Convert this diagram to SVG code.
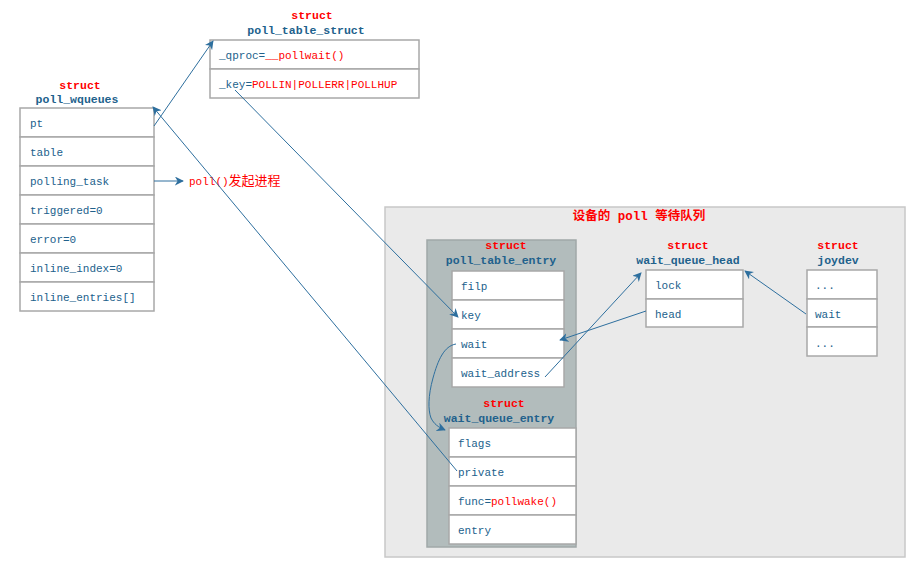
<svg xmlns="http://www.w3.org/2000/svg" width="912" height="562" viewBox="0 0 912 562">
<style>
.box{fill:#ffffff;stroke:#a8a8a8;stroke-width:1.5}
.f{font-family:"Liberation Mono","DejaVu Sans Mono",monospace;font-size:11px;fill:#21618c}
.r{fill:#ff0000}
.t{font-family:"Liberation Mono","DejaVu Sans Mono",monospace;font-size:11.5px;font-weight:bold;fill:#21618c;text-anchor:middle}
.tr{font-family:"Liberation Mono","DejaVu Sans Mono",monospace;font-size:11.5px;font-weight:bold;fill:#ff0000;text-anchor:middle}
.c{fill:none;stroke:#2e6f9e;stroke-width:1}
</style>
<defs>
<marker id="a" viewBox="0 0 10 10" refX="9" refY="5" markerWidth="9" markerHeight="9" orient="auto" markerUnits="userSpaceOnUse">
<path d="M0,0 L10,5 L0,10 L3,5 Z" fill="#2e6f9e"/>
</marker>
</defs>
<rect width="912" height="562" fill="#ffffff"/>

<g id="device-queue">
<rect x="385" y="207" width="520" height="350" fill="#eaeaea" stroke="#c8c8c8" stroke-width="1.5"/>
<text x="639" y="220" text-anchor="middle" font-family="'Liberation Mono','Noto Sans CJK SC',monospace" font-size="12.5" font-weight="bold" fill="#ff0000">设备的 poll 等待队列</text>
</g>

<g id="poll_wqueues">
<text class="tr" x="80" y="89">struct</text>
<text class="t" x="77" y="103">poll_wqueues</text>
<rect class="box" x="20" y="108" width="134" height="29"/>
<rect class="box" x="20" y="137" width="134" height="29"/>
<rect class="box" x="20" y="166" width="134" height="29"/>
<rect class="box" x="20" y="195" width="134" height="29"/>
<rect class="box" x="20" y="224" width="134" height="29"/>
<rect class="box" x="20" y="253" width="134" height="29"/>
<rect class="box" x="20" y="282" width="134" height="29"/>
<text class="f" x="30" y="127">pt</text>
<text class="f" x="30" y="156">table</text>
<text class="f" x="30" y="185">polling_task</text>
<text class="f" x="30" y="214">triggered=0</text>
<text class="f" x="30" y="243">error=0</text>
<text class="f" x="30" y="272">inline_index=0</text>
<text class="f" x="30" y="301">inline_entries[]</text>
</g>

<g id="poll_table_struct">
<text class="tr" x="312" y="19">struct</text>
<text class="t" x="306" y="34">poll_table_struct</text>
<rect class="box" x="210" y="40" width="209" height="29"/>
<rect class="box" x="210" y="69" width="209" height="29"/>
<text class="f" x="219" y="59">_qproc=<tspan class="r">__pollwait()</tspan></text>
<text class="f" x="219" y="88">_key=<tspan class="r">POLLIN|POLLERR|POLLHUP</tspan></text>
</g>

<g id="poll_caller">
<text x="189" y="185" font-family="'Liberation Mono','Noto Sans CJK SC',monospace" font-size="11" fill="#ff0000">poll()<tspan font-size="13">发起进程</tspan></text>
</g>

<g id="poll_table_entry">
<rect x="427" y="240" width="149" height="307" fill="#b2bcbc" stroke="#a0a8a8" stroke-width="1.5"/>
<text class="tr" x="506" y="249">struct</text>
<text class="t" x="501" y="264">poll_table_entry</text>
<rect class="box" x="452" y="271" width="112" height="29"/>
<rect class="box" x="452" y="300" width="112" height="29"/>
<rect class="box" x="452" y="329" width="112" height="29"/>
<rect class="box" x="452" y="358" width="112" height="29"/>
<text class="f" x="461" y="290">filp</text>
<text class="f" x="461" y="319">key</text>
<text class="f" x="461" y="348">wait</text>
<text class="f" x="461" y="377">wait_address</text>
</g>

<g id="wait_queue_entry">
<text class="tr" x="504" y="407">struct</text>
<text class="t" x="499" y="422">wait_queue_entry</text>
<rect class="box" x="449" y="428" width="127" height="29"/>
<rect class="box" x="449" y="457" width="127" height="29"/>
<rect class="box" x="449" y="486" width="127" height="29"/>
<rect class="box" x="449" y="515" width="127" height="29"/>
<text class="f" x="458" y="447">flags</text>
<text class="f" x="458" y="476">private</text>
<text class="f" x="458" y="505">func=<tspan class="r">pollwake()</tspan></text>
<text class="f" x="458" y="534">entry</text>
</g>

<g id="wait_queue_head">
<text class="tr" x="688" y="249">struct</text>
<text class="t" x="688" y="264">wait_queue_head</text>
<rect class="box" x="646" y="270" width="97" height="29"/>
<rect class="box" x="646" y="299" width="97" height="28"/>
<text class="f" x="655" y="289">lock</text>
<text class="f" x="655" y="318">head</text>
</g>

<g id="joydev">
<text class="tr" x="838" y="249">struct</text>
<text class="t" x="838" y="264">joydev</text>
<rect class="box" x="807" y="270" width="70" height="29"/>
<rect class="box" x="807" y="299" width="70" height="28"/>
<rect class="box" x="807" y="327" width="70" height="29"/>
<text class="f" x="815" y="289">...</text>
<text class="f" x="815" y="318">wait</text>
<text class="f" x="815" y="347">...</text>
</g>

<g id="connectors">
<path class="c" d="M154,126 L213,41" marker-end="url(#a)"/>
<path class="c" d="M235,90 L458,317" marker-end="url(#a)"/>
<path class="c" d="M457,471 L153,107" marker-end="url(#a)"/>
<path class="c" d="M154,181 L183,181" marker-end="url(#a)"/>
<path class="c" d="M456,344 C444,346 438,360 433,378 C428,396 428,410 431,418 C434,424 438,427 445,430" marker-end="url(#a)"/>
<path class="c" d="M545,377 L641,273" marker-end="url(#a)"/>
<path class="c" d="M646,311 L560,340" marker-end="url(#a)"/>
<path class="c" d="M806,314 L745,271" marker-end="url(#a)"/>
</g>
</svg>
